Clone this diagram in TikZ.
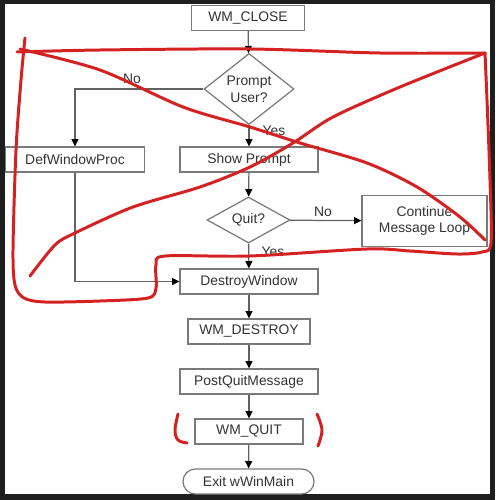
\documentclass[tikz,border=0pt]{standalone}
\usepackage{fontspec}
\setmainfont{Liberation Sans}
\usetikzlibrary{arrows.meta,positioning,shapes.geometric}
\definecolor{framegray}{HTML}{1E1E1E}
\definecolor{boxgray}{HTML}{7A7A7A}
\definecolor{inkgray}{HTML}{333333}
\definecolor{redpen}{HTML}{D42222}
\tikzset{
  stepbox/.style={rectangle,draw=boxgray,line width=0.7pt,fill=white,align=center,text=inkgray,minimum height=0.5cm,inner sep=2pt,font=\fontsize{7.9}{9.5}\selectfont},
  askbox/.style={diamond,draw=boxgray,line width=0.7pt,fill=white,align=center,text=inkgray,inner sep=0pt,font=\fontsize{7.9}{9.5}\selectfont},
  endbox/.style={stepbox,rounded corners=7pt},
  flow/.style={-{Triangle[length=4.2pt,width=4pt,color=black]},draw=boxgray!80!black,line width=0.7pt},
  branch/.style={font=\fontsize{7.9}{9.5}\selectfont,text=inkgray,inner sep=1pt},
  redpen/.style={draw=redpen,line width=1.7pt,line cap=round,line join=round}
}

\begin{document}
\begin{tikzpicture}[x=0.02cm,y=-0.02cm]
    \fill[framegray] (0,0) rectangle (495,500);
    \fill[white] (5,4) rectangle (490,494);
    \useasboundingbox (0,0) rectangle (495,500);

    % flow chart
    \node[stepbox,minimum width=2.26cm] (close) at (248,18) {WM\_CLOSE};
    \node[askbox,minimum width=1.8cm,minimum height=1.26cm] (prompt) at (249,89) {Prompt\\User?};
    \node[stepbox,minimum width=2.78cm] (defwin) at (75,159.5) {DefWindowProc};
    \node[stepbox,minimum width=2.76cm] (show) at (249,159.5) {Show Prompt};
    \node[askbox,minimum width=1.66cm,minimum height=0.92cm] (quit) at (248.5,220) {Quit?};
    \node[stepbox,minimum width=2.5cm,minimum height=1.02cm] (cont) at (424.5,221) {Continue\\Message Loop};
    \node[stepbox,minimum width=2.76cm] (destroy) at (249,281.5) {DestroyWindow};
    \node[stepbox,minimum width=2.44cm] (wmdestroy) at (249,331.5) {WM\_DESTROY};
    \node[stepbox,minimum width=2.76cm] (postquit) at (249,381.5) {PostQuitMessage};
    \node[stepbox,minimum width=2.16cm] (wmquit) at (249,431.5) {WM\_QUIT};
    \node[endbox,minimum width=2.62cm] (exit) at (248.5,481.5) {Exit wWinMain};

    \draw[flow] (close) -- (prompt);
    \draw[flow] (prompt.west) -| (defwin.north);
    \draw[flow] (prompt) -- (show);
    \draw[flow] (show) -- (quit);
    \draw[flow] (quit) -- (cont);
    \draw[flow] (quit) -- (destroy);
    \draw[flow] (defwin.south) |- (destroy.west);
    \draw[flow] (destroy) -- (wmdestroy);
    \draw[flow] (wmdestroy) -- (postquit);
    \draw[flow] (postquit) -- (wmquit);
    \draw[flow] (wmquit) -- (exit);

    \node[branch] (noask) at (132,79) {No};
    \node[branch] (yesask) at (274,131) {Yes};
    \node[branch] (noquit) at (323,212) {No};
    \node[branch] (yesquit) at (273,252) {Yes};

    % red pen marks
    \draw[redpen] plot[smooth,tension=0.5] coordinates {(25,38) (21,80) (16,150) (13,250) (15,285) (24,298) (45,302) (100,301) (148,298) (156,288) (156,265) (165,256) (250,256) (367,249) (410,251) (457,254) (482,252) (491,243) (490,180) (487,100) (485,53)};
    \draw[redpen] plot[smooth,tension=0.5] coordinates {(17,52) (100,50) (250,49) (380,53) (485,53)};
    \draw[redpen] plot[smooth,tension=0.5] coordinates {(20,49) (100,70) (183,107) (250,127) (300,143) (367,163) (417,187) (460,217) (485,240)};
    \draw[redpen] plot[smooth,tension=0.5] coordinates {(485,53) (400,87) (333,117) (293,143) (250,167) (200,187) (133,207) (75,233) (55,245) (30,276)};
    \draw[redpen] plot[smooth,tension=0.6] coordinates {(178,414) (175,430) (178,440) (187,443)};
    \draw[redpen] plot[smooth,tension=0.6] coordinates {(317,414) (322,430) (318,446)};
\end{tikzpicture}
\end{document}
